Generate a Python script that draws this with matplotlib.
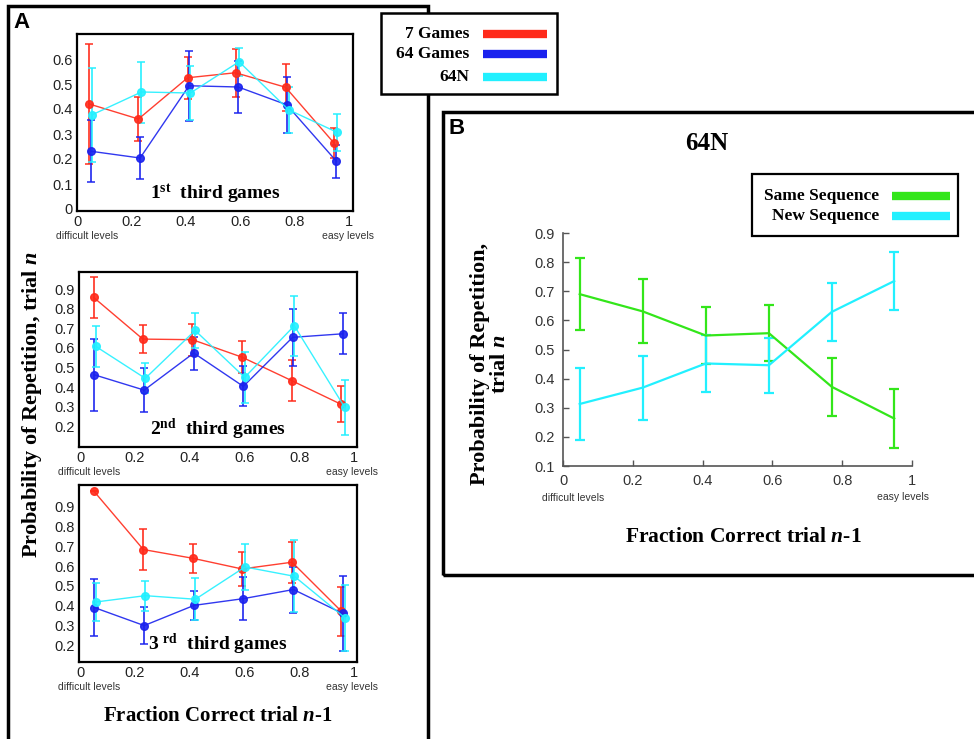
import numpy as np
import matplotlib.pyplot as plt
from matplotlib.patches import Rectangle
from matplotlib.lines import Line2D

plt.rcParams['font.family'] = 'Liberation Sans'
plt.rcParams['mathtext.fontset'] = 'custom'
plt.rcParams['mathtext.rm'] = 'Liberation Serif:bold'
plt.rcParams['mathtext.bf'] = 'Liberation Serif:bold'
plt.rcParams['mathtext.it'] = 'Liberation Serif:bold:italic'

## Data
# Panel A, 1st third games
x_red1 = [0.045, 0.226, 0.407, 0.583, 0.767, 0.945]
y_red1 = [0.42, 0.36, 0.525, 0.545, 0.487, 0.264]
e_red1 = [0.24, 0.087, 0.083, 0.095, 0.093, 0.06]
x_blue1 = [0.051, 0.232, 0.412, 0.593, 0.771, 0.954]
y_blue1 = [0.231, 0.204, 0.493, 0.488, 0.417, 0.191]
e_blue1 = [0.124, 0.084, 0.141, 0.105, 0.112, 0.065]
x_cyan1 = [0.054, 0.237, 0.417, 0.596, 0.778, 0.956]
y_cyan1 = [0.376, 0.468, 0.464, 0.589, 0.397, 0.307]
e_cyan1 = [0.189, 0.122, 0.107, 0.055, 0.092, 0.075]

# Panel A, 2nd third games
x_red2 = [0.049, 0.229, 0.41, 0.591, 0.773, 0.951]
y_red2 = [0.858, 0.645, 0.642, 0.553, 0.433, 0.314]
e_red2 = [0.105, 0.073, 0.082, 0.08, 0.105, 0.094]
x_blue2 = [0.052, 0.234, 0.415, 0.596, 0.776, 0.959]
y_blue2 = [0.463, 0.385, 0.574, 0.404, 0.654, 0.672]
e_blue2 = [0.184, 0.113, 0.084, 0.102, 0.146, 0.105]
x_cyan2 = [0.057, 0.238, 0.42, 0.601, 0.782, 0.966]
y_cyan2 = [0.608, 0.445, 0.689, 0.45, 0.713, 0.297]
e_cyan2 = [0.104, 0.077, 0.089, 0.13, 0.152, 0.14]

# Panel A, 3rd third games
x_red3 = [0.049, 0.231, 0.411, 0.591, 0.774, 0.954]
y_red3 = [0.981, 0.684, 0.64, 0.586, 0.62, 0.372]
e_red3 = [0.0, 0.103, 0.073, 0.084, 0.103, 0.125]
x_blue3 = [0.052, 0.234, 0.416, 0.596, 0.779, 0.959]
y_blue3 = [0.391, 0.3, 0.402, 0.436, 0.482, 0.361]
e_blue3 = [0.143, 0.095, 0.072, 0.11, 0.116, 0.187]
x_cyan3 = [0.057, 0.238, 0.421, 0.602, 0.782, 0.968]
y_cyan3 = [0.419, 0.451, 0.433, 0.596, 0.549, 0.338]
e_cyan3 = [0.095, 0.076, 0.107, 0.118, 0.181, 0.167]

# Panel B, 64N
x_b = [0.048, 0.228, 0.409, 0.59, 0.77, 0.949]
y_same = [0.69, 0.631, 0.548, 0.556, 0.372, 0.263]
e_same = [0.124, 0.11, 0.097, 0.096, 0.1, 0.1]
y_new = [0.313, 0.369, 0.452, 0.446, 0.629, 0.735]
e_new = [0.125, 0.11, 0.097, 0.095, 0.1, 0.1]

xticks = [0, 0.2, 0.4, 0.6, 0.8, 1]
xticklabels = ["0", "0.2", "0.4", "0.6", "0.8", "1"]

RED = "#ff2a1a"
BLUE = "#1a22ee"
CYAN = "#22f0ff"
GREEN = "#33e61a"

W, H = 974, 739
fig = plt.figure(figsize=(W/100, H/100), dpi=100)

def box(l, t, r, b):
    return [l/W, 1 - b/H, (r - l)/W, (b - t)/H]

def fx(x):
    return x/W

def fy(y):
    return 1 - y/H

## Panel frames
fig.patches.append(Rectangle((fx(8), fy(745)), fx(428) - fx(8), fy(6) - fy(745),
                             transform=fig.transFigure, fill=False, lw=2.5, ec='black', zorder=0))
fig.patches.append(Rectangle((fx(443), fy(575)), fx(980) - fx(443), fy(112) - fy(575),
                             transform=fig.transFigure, fill=False, lw=2.5, ec='black', zorder=0))

## Panel A subplots
panels = [
    ((77, 34, 353, 211), (0, 1.015), (-0.008, 0.70), [0, 0.1, 0.2, 0.3, 0.4, 0.5, 0.6],
     [(x_red1, y_red1, e_red1, RED), (x_blue1, y_blue1, e_blue1, BLUE), (x_cyan1, y_cyan1, e_cyan1, CYAN)],
     r"1$^{\mathrm{st}}$  third games"),
    ((79, 272, 357, 447), (-0.004, 1.011), (0.095, 0.987), [0.2, 0.3, 0.4, 0.5, 0.6, 0.7, 0.8, 0.9],
     [(x_red2, y_red2, e_red2, RED), (x_blue2, y_blue2, e_blue2, BLUE), (x_cyan2, y_cyan2, e_cyan2, CYAN)],
     r"2$^{\mathrm{nd}}$  third games"),
    ((79, 485, 357, 662), (-0.004, 1.011), (0.116, 1.01), [0.2, 0.3, 0.4, 0.5, 0.6, 0.7, 0.8, 0.9],
     [(x_red3, y_red3, e_red3, RED), (x_blue3, y_blue3, e_blue3, BLUE), (x_cyan3, y_cyan3, e_cyan3, CYAN)],
     r"3 $^{\mathrm{rd}}$  third games"),
]

for pos, xl, yl, yt, series, title in panels:
    ax = fig.add_axes(box(*pos))
    for x, y, e, c in series:
        ax.errorbar(x, y, yerr=e, color=c, lw=1.0, elinewidth=1.3, capsize=3, capthick=1.2,
                    marker='o', ms=5.5, mec=c, mfc=c, alpha=0.9)
    ax.set_xlim(*xl)
    ax.set_ylim(*yl)
    ax.set_xticks(xticks)
    ax.set_xticklabels(xticklabels)
    ax.set_yticks(yt)
    ax.set_yticklabels([("%g" % v) for v in yt])
    ax.tick_params(length=0, labelsize=10.5, pad=3, colors='#222222')
    for s in ax.spines.values():
        s.set_linewidth(1.6)
    ax.text(0.5, 0.03, title, transform=ax.transAxes, ha='center', va='bottom',
            fontsize=14, fontfamily='Liberation Serif', fontweight='bold')
    l, t, r, b = pos
    fig.text(fx(l + 10), fy(b + 25), "difficult levels", ha='center', va='center', fontsize=7.5,
             color='#333333')
    fig.text(fx(r - 5), fy(b + 25), "easy levels", ha='center', va='center', fontsize=7.5,
             color='#333333')

fig.text(fx(22), fy(23), "A", fontsize=16, fontweight='bold', ha='center', va='center')
fig.text(fx(32), fy(405), r"Probability of Repetition, trial $n$", rotation=90, ha='center', va='center',
         fontsize=16, fontfamily='Liberation Serif', fontweight='bold')
fig.text(fx(218), fy(716), r"Fraction Correct trial $n$-$1$", ha='center', va='center',
         fontsize=15, fontfamily='Liberation Serif', fontweight='bold')

## Panel A legend
fig.patches.append(Rectangle((fx(381), fy(94)), fx(557) - fx(381), fy(13) - fy(94),
                             transform=fig.transFigure, fc='white', ec='black', lw=1.8, zorder=5))
for lab, c, yy in [("7 Games", RED, 34), ("64 Games", BLUE, 54), ("64N", CYAN, 77)]:
    fig.text(fx(469), fy(yy), lab, ha='right', va='center', fontsize=12.5,
             fontfamily='Liberation Serif', fontweight='bold', zorder=6)
    fig.lines.append(Line2D([fx(483), fx(547)], [fy(yy), fy(yy)], transform=fig.transFigure,
                            color=c, lw=6, solid_capstyle='butt', zorder=6))

## Panel B
axb = fig.add_axes(box(563, 233, 912, 466))
axb.errorbar(x_b, y_same, yerr=e_same, color=GREEN, lw=1.6, elinewidth=1.6, capsize=3.5, capthick=1.6)
axb.errorbar(x_b, y_new, yerr=e_new, color=CYAN, lw=1.6, elinewidth=1.6, capsize=3.5, capthick=1.6)
axb.set_xlim(0, 1)
axb.set_ylim(0.1, 0.9)
axb.set_xticks(xticks)
axb.set_xticklabels(xticklabels)
axb.set_yticks([0.1, 0.2, 0.3, 0.4, 0.5, 0.6, 0.7, 0.8, 0.9])
axb.set_yticklabels(["0.1", "0.2", "0.3", "0.4", "0.5", "0.6", "0.7", "0.8", "0.9"])
axb.spines['top'].set_visible(False)
axb.spines['right'].set_visible(False)
for s in ['left', 'bottom']:
    axb.spines[s].set_color('#555555')
    axb.spines[s].set_linewidth(1.2)
axb.tick_params(direction='in', length=4, width=1.0, colors='#555555', labelcolor='#333333',
                labelsize=10.5, pad=6)
fig.text(fx(573), fy(498), "difficult levels", ha='center', va='center', fontsize=7.5, color='#333333')
fig.text(fx(903), fy(497), "easy levels", ha='center', va='center', fontsize=7.5, color='#333333')

fig.text(fx(457), fy(129), "B", fontsize=16, fontweight='bold', ha='center', va='center')
fig.text(fx(707), fy(143), "64N", ha='center', va='center', fontsize=18,
         fontfamily='Liberation Serif', fontweight='bold')
fig.text(fx(490), fy(364), "Probability of Repetition,\n" + r"trial $n$", rotation=90, ha='center',
         va='center', fontsize=16, fontfamily='Liberation Serif', fontweight='bold', linespacing=0.95,
         multialignment='center')
fig.text(fx(743), fy(537), r"Fraction Correct trial $n$-$1$", ha='center', va='center',
         fontsize=15.5, fontfamily='Liberation Serif', fontweight='bold')

## Panel B legend
fig.patches.append(Rectangle((fx(752), fy(236)), fx(958) - fx(752), fy(174) - fy(236),
                             transform=fig.transFigure, fc='white', ec='black', lw=1.6, zorder=5))
for lab, c, yy in [("Same Sequence", GREEN, 196), ("New Sequence", CYAN, 216)]:
    fig.text(fx(879), fy(yy), lab, ha='right', va='center', fontsize=12.5,
             fontfamily='Liberation Serif', fontweight='bold', zorder=6)
    fig.lines.append(Line2D([fx(892), fx(950)], [fy(yy), fy(yy)], transform=fig.transFigure,
                            color=c, lw=6, solid_capstyle='butt', zorder=6))

fig.savefig("out.png", dpi=100)
